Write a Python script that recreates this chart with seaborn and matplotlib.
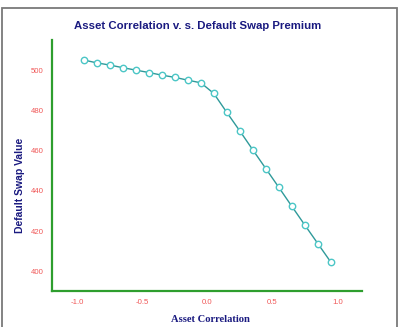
import matplotlib
matplotlib.use("Agg")
import matplotlib.pyplot as plt
import matplotlib.patches as mpatches
from matplotlib.ticker import MultipleLocator
import seaborn as sns
import pandas as pd

correlation = [-0.95, -0.85, -0.75, -0.65, -0.55, -0.45, -0.35, -0.25, -0.15, -0.05,
               0.05, 0.15, 0.25, 0.35, 0.45, 0.55, 0.65, 0.75, 0.85, 0.95]
swap_value = [505.0, 503.6, 502.5, 501.2, 500.0, 498.8, 497.5, 496.4, 495.0, 493.7,
              488.4, 479.0, 469.8, 460.4, 451.1, 441.8, 432.4, 423.1, 413.9, 404.7]
x_ticks = [-1.0, -0.5, 0.0, 0.5, 1.0]
y_ticks = [400, 420, 440, 460, 480, 500]

df = pd.DataFrame({"corr": correlation, "value": swap_value})

sns.set_style("white")
fig = plt.figure(figsize=(4.0, 3.27), dpi=100)
ax = fig.add_axes([0.13, 0.111, 0.775, 0.767])

sns.lineplot(data=df, x="corr", y="value", ax=ax, color="#2f9a9a", linewidth=1.0,
             marker="o", markersize=4.6, markerfacecolor="white",
             markeredgecolor="#4cc6c6", markeredgewidth=1.0)

ax.set_xlim(-1.195, 1.19)
ax.set_ylim(390.5, 515)
ax.set_xticks(x_ticks)
ax.set_xticklabels([f"{t:.1f}" for t in x_ticks])
ax.set_yticks(y_ticks)
ax.set_yticklabels([str(t) for t in y_ticks])
ax.xaxis.set_minor_locator(MultipleLocator(0.25))
ax.yaxis.set_minor_locator(MultipleLocator(10))

for s in ["top", "right"]:
    ax.spines[s].set_visible(False)
for s in ["left", "bottom"]:
    ax.spines[s].set_color("#2e9e2e")
    ax.spines[s].set_linewidth(1.6)

ax.tick_params(axis="both", which="both", direction="in", color="#5a8a5a",
               labelcolor="#f05858", labelsize=5.6, width=0.8)
ax.tick_params(axis="both", which="major", length=3.5, pad=6)
ax.tick_params(axis="both", which="minor", length=2.5)
for lab in ax.get_xticklabels() + ax.get_yticklabels():
    lab.set_family("Liberation Sans")

ax.set_xlabel("Asset Correlation", family="Liberation Serif", fontweight="bold",
              fontsize=7.6, color="#1a1a80")
ax.xaxis.set_label_coords(0.51, -0.095)
ax.set_ylabel("Default Swap Value", family="Liberation Sans", fontweight="bold",
              fontsize=7.5, color="#1a1a80")
ax.yaxis.set_label_coords(-0.088, 0.42)

fig.text(0.493, 0.92, "Asset Correlation v. s. Default Swap Premium",
         family="Liberation Sans", fontweight="bold", fontsize=8.2,
         color="#1a1a80", ha="center", va="center")

border = mpatches.Rectangle((1.5 / 400, -0.02), 395.5 / 400, 1 - 8 / 327 + 0.02,
                            transform=fig.transFigure, fill=False,
                            edgecolor="#7a7a7a", linewidth=1.3)
fig.patches.append(border)

fig.savefig("out.png", dpi=100)
